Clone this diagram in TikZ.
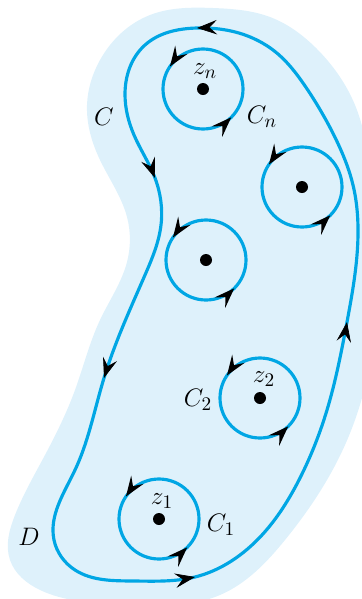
\documentclass[tikz,border=0pt]{standalone}
\usepackage{tikz}
\usetikzlibrary{arrows.meta,decorations.markings,hobby}
\definecolor{contourblue}{RGB}{0,166,228}
\definecolor{regionblue}{RGB}{222,241,251}
\tikzset{
  looptip/.tip = {Stealth[length=4mm,width=2.9mm,inset=1.5mm,color=black]},
  regionfill/.style = {
    fill=regionblue,
    draw=none
  },
  contourline/.style = {
    draw=contourblue,
    line width=1.8pt
  },
  tipmark/.style = {
    postaction={decorate},
    decoration={markings,
      mark=at position 1 with {\arrow{looptip}}}
  },
  smallloop/.style = {
    contourline,
    postaction={decorate},
    decoration={markings,
      mark=at position 0.405 with {\arrow{looptip}},
      mark=at position 0.875 with {\arrow{looptip}}}
  },
  pointdot/.style = {
    fill=black
  },
  curvelabel/.style = {
    inner sep=0pt,
    font=\fontsize{15}{18}\selectfont
  }
}

\begin{document}
\begin{tikzpicture}[x=0.02cm, y=-0.02cm]
    \clip (0,0) rectangle (362,599);
    % region D
    \fill[regionfill] plot[closed hobby] coordinates {
      (213,8) (150,15) (100,60) (87,105) (100,160) (127,217) (127,262)
      (100,320) (75,390) (45,455) (15,515) (10,560) (40,590) (120,604)
      (220,595) (285,540) (345,445) (372,350) (372,200) (355,105)
      (318,50) (270,17)};
    % contour C
    \draw[contourline] plot[closed hobby] coordinates {
      (197,28) (145,45) (125,95) (134,135) (155,178) (161,225) (145,275)
      (104,378) (75,470) (54,540) (75,570) (133,581) (195,577) (262,535)
      (300,478) (327,410) (347,322) (358,235) (353,185) (340,148)
      (322,113) (303,83) (278,54) (245,35)};
    % arrow tips on C
    \foreach \tx/\ty/\ux/\uy in {197/28/-1/0.04, 155/178/0.35/0.94,
        104/378/-0.3/0.95, 195/577/0.98/-0.18, 347/322/0.16/-0.99}
      \path[tipmark] (\tx-2*\ux,\ty-2*\uy) -- (\tx,\ty);
    % small circles
    \coordinate (zn) at (203,89);
    \coordinate (zr) at (302,187);
    \coordinate (zm) at (206,260);
    \coordinate (z2) at (260,398);
    \coordinate (z1) at (159,519);
    \foreach \c in {zn,zr,zm,z2,z1} {
      \draw[smallloop] (\c) ++(40,0) arc[start angle=0, end angle=-360, radius=40];
      \fill[pointdot] (\c) circle[radius=6];
    }
    % labels
    \node[curvelabel] (labC) at (104,117) {$C$};
    \node[curvelabel] (labCn) at (262,117) {$C_n$};
    \node[curvelabel] (labzn) at (205,71) {$z_n$};
    \node[curvelabel] (labC2) at (198,400) {$C_2$};
    \node[curvelabel] (labz2) at (264,379) {$z_2$};
    \node[curvelabel] (labz1) at (162,501) {$z_1$};
    \node[curvelabel] (labC1) at (221,525) {$C_1$};
    \node[curvelabel] (labD) at (29,537) {$D$};
  \end{tikzpicture}
\end{document}
